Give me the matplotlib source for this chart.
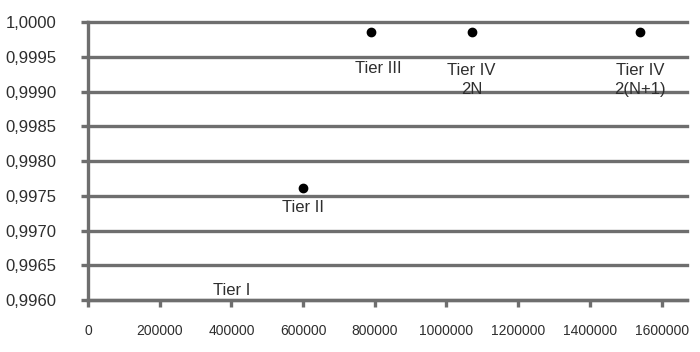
import matplotlib
matplotlib.use("Agg")
import matplotlib.pyplot as plt
from matplotlib.ticker import FuncFormatter

plt.rcParams['font.family'] = ['Liberation Sans', 'DejaVu Sans']

# Data
tiers = ["Tier II", "Tier III", "Tier IV\n2N", "Tier IV\n2(N+1)"]
cost = [600000, 790000, 1070000, 1540000]
availability = [0.99761, 0.99985, 0.99985, 0.99985]
# Tier I label only (point lies outside the visible range)
tier1_label = "Tier I"
tier1_x = 400000
tier1_y = 0.99613

xticks = [0, 200000, 400000, 600000, 800000, 1000000, 1200000, 1400000, 1600000]
yticks = [0.9960, 0.9965, 0.9970, 0.9975, 0.9980, 0.9985, 0.9990, 0.9995, 1.0000]

gray = "#6e6e6e"
textc = "#2e2e2e"

fig = plt.figure(figsize=(7, 3.52), dpi=100)
ax = fig.add_axes([0.1257, 0.1477, 0.981 - 0.1257, 0.9375 - 0.1477])

ax.set_xlim(0, 1670000)
ax.set_ylim(0.9960, 1.0000)

for y in yticks:
    ax.axhline(y, color=gray, lw=2.4, zorder=1, clip_on=False)

ax.plot(cost, availability, 'o', color='black', ms=6, zorder=3)

# label offsets in points (x, y)
offsets = [(0, -14), (5, -26), (0, -34), (0, -34)]
for t, x, y, off in zip(tiers, cost, availability, offsets):
    ax.annotate(t, (x, y), xytext=off, textcoords='offset points',
                ha='center', va='center', fontsize=12, color=textc,
                linespacing=1.35)
ax.annotate(tier1_label, (tier1_x, tier1_y), ha='center', va='center',
            fontsize=12, color=textc)

for s in ['top', 'right']:
    ax.spines[s].set_visible(False)
ax.spines['left'].set_color(gray)
ax.spines['left'].set_linewidth(2.4)
ax.spines['bottom'].set_color(gray)
ax.spines['bottom'].set_linewidth(2.4)

ax.set_xticks(xticks)
ax.set_yticks(yticks)
ax.xaxis.set_major_formatter(FuncFormatter(lambda v, p: f"{int(round(v))}"))
ax.yaxis.set_major_formatter(FuncFormatter(lambda v, p: f"{v:.4f}".replace('.', ',')))
ax.tick_params(axis='x', length=5, width=2.4, color=gray, labelsize=10,
               labelcolor=textc, pad=12)
ax.tick_params(axis='y', length=5, width=2.4, color=gray, labelsize=12,
               labelcolor=textc, pad=18)

fig.savefig("out.png", dpi=100, facecolor='white')
